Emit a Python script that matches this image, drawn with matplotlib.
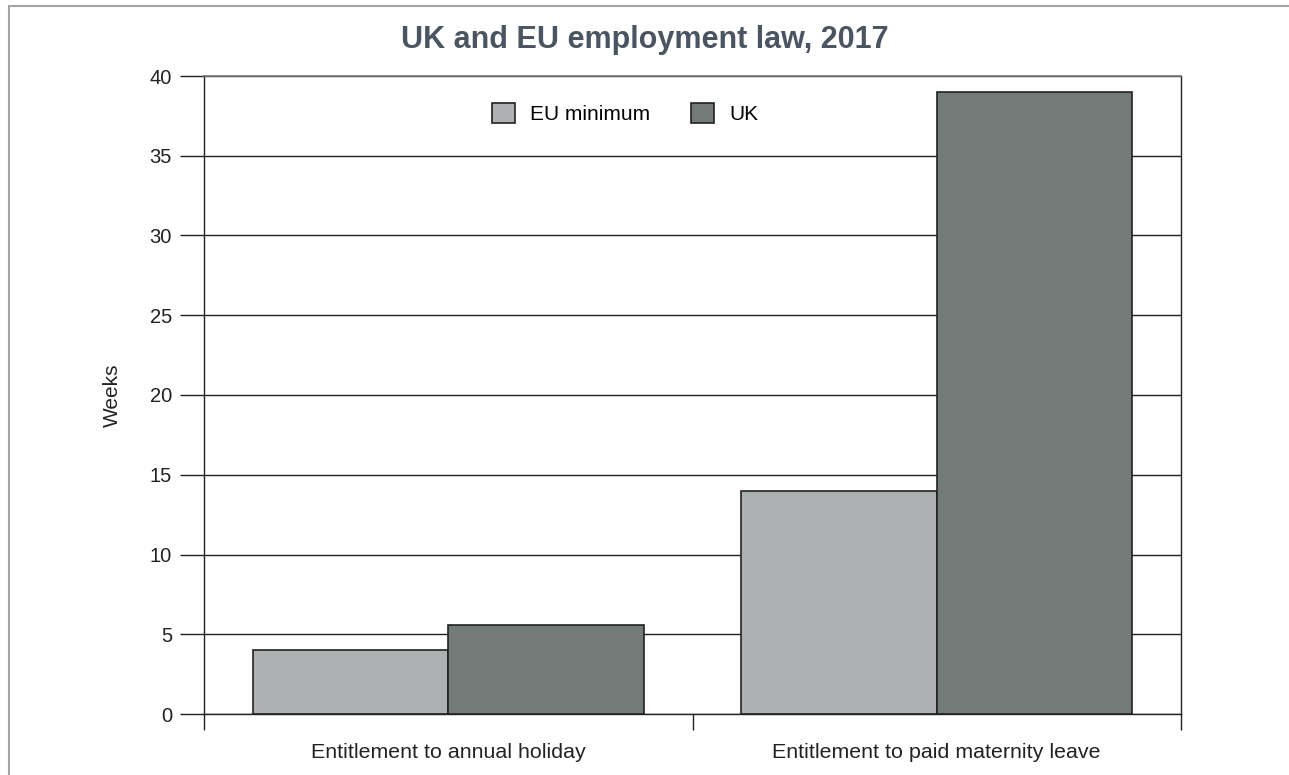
import numpy as np
import matplotlib
matplotlib.use("Agg")
import matplotlib.pyplot as plt
from matplotlib.lines import Line2D

# ── Data ───────────────────────────────────────────────────────────────────
categories = ["Entitlement to annual holiday", "Entitlement to paid maternity leave"]
eu_minimum = [4.0, 14.0]
uk         = [5.6, 39.0]
series     = ["EU minimum", "UK"]

# ── Style ──────────────────────────────────────────────────────────────────
C_EU    = "#adb1b1"
C_UK    = "#737b79"
C_TITLE = "#4a5561"
C_FRAME = "#a3a5a5"
plt.rcParams["font.family"] = ["Liberation Sans", "DejaVu Sans"]

W, H, DPI = 1289, 775, 100
fig = plt.figure(figsize=(W / DPI, H / DPI), dpi=DPI)
ax = fig.add_axes([204 / W, 1 - 714 / H, (1181 - 204) / W, (714 - 76) / H])

x = np.arange(len(categories))
bw = 0.4
ax.bar(x - bw / 2, eu_minimum, bw, color=C_EU, edgecolor="#222222", lw=1.2,
       label=series[0], zorder=3)
ax.bar(x + bw / 2, uk, bw, color=C_UK, edgecolor="#222222", lw=1.2,
       label=series[1], zorder=3)

ax.set_xlim(-0.5, len(categories) - 0.5)
ax.set_ylim(0, 40)
ax.set_yticks(np.arange(0, 41, 5))
ax.tick_params(axis="y", length=17, width=1, color="#222222",
               labelsize=14.5, pad=6, labelcolor="#222222")
ax.yaxis.grid(True, color="#222222", lw=1)
ax.set_axisbelow(True)

# category boundaries as major ticks, labels on minor ticks
ax.set_xticks(np.arange(-0.5, len(categories), 1.0))
ax.set_xticklabels([])
ax.tick_params(axis="x", which="major", length=11.5, width=1, color="#222222")
ax.set_xticks(x, minor=True)
ax.set_xticklabels(categories, minor=True)
ax.tick_params(axis="x", which="minor", length=0, labelsize=15.4, pad=21,
               labelcolor="#222222")

for s in ("left", "bottom", "right"):
    ax.spines[s].set_color("#222222")
    ax.spines[s].set_linewidth(1)
ax.spines["top"].set_color("#777777")
ax.spines["top"].set_linewidth(1.2)

ax.set_ylabel("Weeks", fontsize=15, color="#222222", labelpad=20)

ax.legend(loc="upper center", bbox_to_anchor=(0.431, 0.987), ncol=2,
          frameon=False, fontsize=15, handlelength=1.1, handleheight=1.1,
          columnspacing=2.0, handletextpad=0.7)

fig.text(0.5, 1 - 40 / H, "UK and EU employment law, 2017", ha="center",
         va="center", fontsize=22, fontweight="bold", color=C_TITLE)

# outer frame (top and left edges)
fig.add_artist(Line2D([8.5 / W, 1], [1 - 6 / H, 1 - 6 / H], color=C_FRAME, lw=1.5))
fig.add_artist(Line2D([8.5 / W, 8.5 / W], [0, 1 - 6 / H], color=C_FRAME, lw=1.5))

fig.savefig("out.png", dpi=DPI)
